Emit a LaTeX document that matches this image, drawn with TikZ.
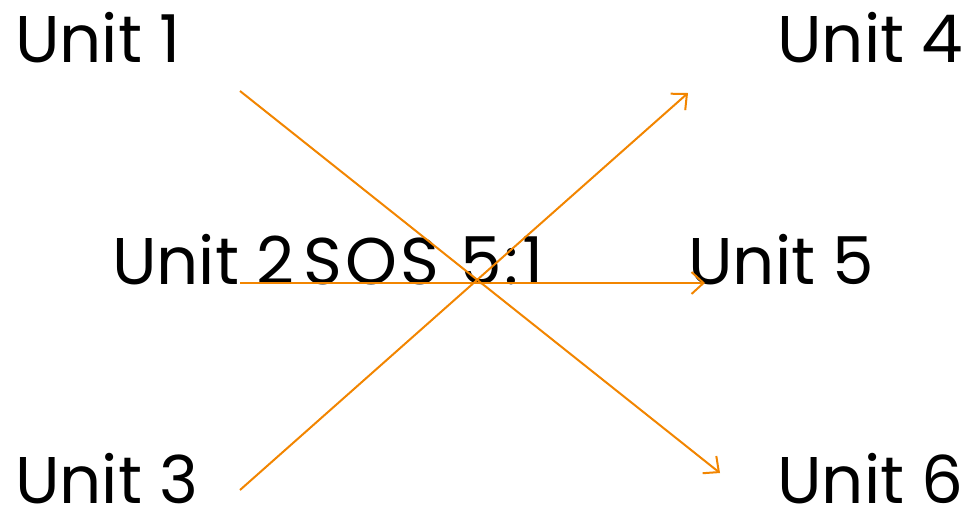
\documentclass[tikz,border=0pt]{standalone}
\usepackage{fontspec}
\setmainfont{Poppins}
\usetikzlibrary{arrows.meta}
\definecolor{arr}{RGB}{242,133,0}
\begin{document}
\begin{tikzpicture}[x=1pt,y=-1pt,
  lbl/.style={anchor=base west,inner sep=0pt,text depth=0pt,font=\fontsize{66}{70}\selectfont},
  conn/.style={draw=arr,line width=2pt,-{Straight Barb[length=12pt,width=22pt,line width=2pt]}}]
\useasboundingbox (0,0) rectangle (965,512);
\node[lbl] (u1) at (15,62) {Unit 1};
\node[lbl] (u4) at (777,62) {Unit 4};
\node[lbl] (u2) at (112,284) {Unit 2};
\node[lbl] (sos) at (303,284) {\addfontfeature{LetterSpace=5}SOS 5:1};
\node[lbl] (u5) at (688,284) {Unit 5};
\node[lbl] (u3) at (15,503) {Unit 3};
\node[lbl] (u6) at (777,503) {Unit 6};
\coordinate (a1) at (240,91);
\coordinate (b6) at (720,473);
\coordinate (a3) at (240,490);
\coordinate (b4) at (688,93);
\coordinate (a2) at (240,283);
\coordinate (b5) at (705,283);
\draw[conn] (a1) -- (b6);
\draw[conn] (a3) -- (b4);
\draw[conn] (a2) -- (b5);
\end{tikzpicture}
\end{document}
